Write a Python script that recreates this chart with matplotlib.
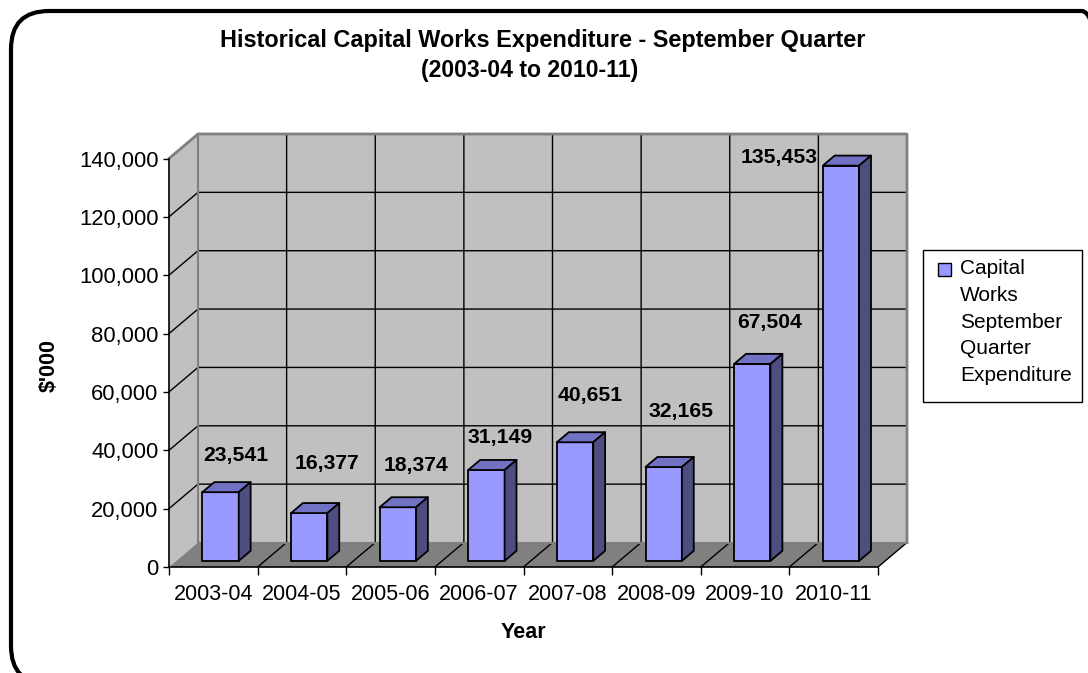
import numpy as np
import matplotlib
matplotlib.use("Agg")
import matplotlib.pyplot as plt
from matplotlib.patches import Polygon, Rectangle, FancyBboxPatch
from matplotlib.ticker import FuncFormatter

plt.rcParams['font.family'] = ['Liberation Sans', 'DejaVu Sans']

# data
years = ["2003-04", "2004-05", "2005-06", "2006-07",
         "2007-08", "2008-09", "2009-10", "2010-11"]
spend = [23541, 16377, 18374, 31149, 40651, 32165, 67504, 135453]
y_ticks = [0, 20000, 40000, 60000, 80000, 100000, 120000, 140000]
series_name = "Capital\nWorks\nSeptember\nQuarter\nExpenditure"

W, H = 1088, 673
fig = plt.figure(figsize=(W / 100, H / 100), dpi=100)

def fx(px):
    return px / W

def fy(py):
    return 1 - py / H

# front plane of the 3d box
ax = fig.add_axes([fx(169), fy(567), fx(878) - fx(169), fy(158.5) - fy(567)])
ax.set_xlim(0, len(years))
ax.set_ylim(0, 140000)
ax.patch.set_visible(False)

n = len(years)
ymax = 140000
DX = 29 / 88.625          # depth shift in category units
DY = 24.5 * ymax / 408.5  # depth shift in value units

wall = "#C0C0C0"
floor = "#808080"
edge = "#808080"

# back wall, side wall, floor
ax.add_patch(Polygon([(DX, DY), (n + DX, DY), (n + DX, ymax + DY), (DX, ymax + DY)],
                     closed=True, fc=wall, ec="none", clip_on=False, zorder=1))
ax.add_patch(Polygon([(0, 0), (DX, DY), (DX, ymax + DY), (0, ymax)],
                     closed=True, fc=wall, ec="none", clip_on=False, zorder=1))
ax.add_patch(Polygon([(0, 0), (n, 0), (n + DX, DY), (DX, DY)],
                     closed=True, fc=floor, ec="none", clip_on=False, zorder=1))

# gridlines
for t in y_ticks[1:]:
    ax.plot([0, DX, n + DX], [t, t + DY, t + DY], color="black", lw=1,
            clip_on=False, zorder=2)
for i in range(1, n):
    ax.plot([i, i + DX, i + DX], [0, DY, ymax + DY], color="black", lw=1,
            clip_on=False, zorder=2)
ax.plot([n, n + DX], [0, DY], color="black", lw=1, clip_on=False, zorder=2)

# wall borders
ax.plot([0, DX, n + DX, n + DX], [ymax, ymax + DY, ymax + DY, DY],
        color=edge, lw=2, clip_on=False, zorder=2)
ax.plot([DX, DX, n + DX], [ymax + DY, DY, DY], color=edge, lw=1.5,
        clip_on=False, zorder=2)

# bars
front_c, top_c, side_c = "#9999FF", "#7272C4", "#4D4D80"
bw0, bw1 = 0.295, 0.705
f0, f1 = 0.25, 0.66
for i, v in enumerate(spend):
    x0, x1 = i + bw0, i + bw1
    a, b = f0 * DX, f1 * DX
    c, d = f0 * DY, f1 * DY
    front = [(x0 + a, c), (x1 + a, c), (x1 + a, v + c), (x0 + a, v + c)]
    top = [(x0 + a, v + c), (x1 + a, v + c), (x1 + b, v + d), (x0 + b, v + d)]
    side = [(x1 + a, c), (x1 + b, d), (x1 + b, v + d), (x1 + a, v + c)]
    for pts, col in ((front, front_c), (top, top_c), (side, side_c)):
        ax.add_patch(Polygon(pts, closed=True, fc=col, ec="black", lw=1.3,
                             joinstyle="round", clip_on=False, zorder=3))

# value labels (offsets in pixels, as placed in the original)
lab_dx = [22, 25, 25, 21, 22, 25, 25, -55]
lab_dy = [43, 56, 48, 39, 53, 62, 48, 14]
for i, v in enumerate(spend):
    ax.annotate(f"{v:,}", xy=(i + 0.5, v), xytext=(lab_dx[i], lab_dy[i]),
                textcoords="offset pixels", ha="center", va="center",
                fontsize=15.2, fontweight="bold", zorder=5, annotation_clip=False)

# axes
for s in ("top", "right"):
    ax.spines[s].set_visible(False)
for s in ("left", "bottom"):
    ax.spines[s].set_color("black")
    ax.spines[s].set_linewidth(1.2)
    ax.spines[s].set_zorder(4)
ax.set_yticks(y_ticks)
ax.yaxis.set_major_formatter(FuncFormatter(lambda v, p: f"{int(v):,}"))
ax.tick_params(axis="y", direction="out", length=4.5, width=1, labelsize=15.8, pad=3)
ax.set_xticks(np.arange(n + 1))
ax.set_xticklabels([])
ax.set_xticks(np.arange(n) + 0.5, minor=True)
ax.set_xticklabels(years, minor=True)
ax.tick_params(axis="x", which="major", direction="out", length=6, width=1)
ax.tick_params(axis="x", which="minor", length=0, labelsize=15.5, pad=12)

# titles
fig.text(fx(543), fy(40), "Historical Capital Works Expenditure - September Quarter",
         ha="center", va="center", fontsize=16.9, fontweight="bold")
fig.text(fx(529.5), fy(70), "(2003-04 to 2010-11)",
         ha="center", va="center", fontsize=16.6, fontweight="bold")
fig.text(fx(523), fy(633), "Year", ha="center", va="center",
         fontsize=15.5, fontweight="bold")
fig.text(fx(49.5), fy(365), "$'000", ha="center", va="center", rotation=90,
         fontsize=15.5, fontweight="bold")

# legend drawn by hand so the swatch sits beside the first line
fig.patches.append(Rectangle((fx(923), fy(402)), fx(1082) - fx(923), fy(250) - fy(402),
                             transform=fig.transFigure, fc="white", ec="black", lw=1))
fig.patches.append(Rectangle((fx(938), fy(276)), fx(13), fy(263) - fy(276),
                             transform=fig.transFigure, fc=front_c, ec="black", lw=1))
fig.text(fx(960), fy(259), series_name, ha="left", va="top", fontsize=15,
         linespacing=1.52)

# rounded outer frame
fig.patches.append(FancyBboxPatch((fx(11), fy(684)), fx(1120) - fx(11), fy(11) - fy(684),
                                  boxstyle="round,pad=0,rounding_size=0.035",
                                  transform=fig.transFigure, fc="none", ec="black",
                                  lw=3, mutation_aspect=W / H))

fig.savefig("out.png", dpi=100)
